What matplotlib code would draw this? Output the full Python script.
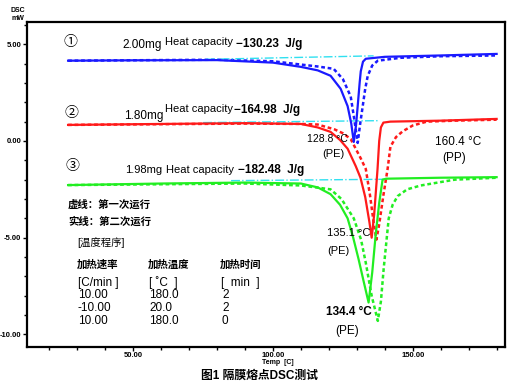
import matplotlib
matplotlib.use("Agg")
import matplotlib.pyplot as plt
from matplotlib.ticker import MultipleLocator, FormatStrFormatter

plt.rcParams['font.family'] = ['Liberation Sans', 'Noto Sans CJK SC', 'DejaVu Sans']
plt.rcParams['axes.unicode_minus'] = False

# sample 1 (blue)
t_b1 = [26.7, 50, 80, 100, 110, 116, 120.6, 124.2, 126.7, 128, 128.9, 129.7, 130.3, 131, 131.4, 132.2, 133.2, 140, 160, 180]
y_b1 = [4.15, 4.17, 4.18, 4.05, 3.83, 3.65, 3.37, 2.7, 1.8, 0.9, -0.05, 0.8, 1.8, 3.0, 3.6, 4.1, 4.25, 4.35, 4.42, 4.5]
t_b0 = [26.7, 80, 100, 110, 116, 121.7, 125, 127.8, 129, 130.3, 131.2, 132.1, 133, 133.9, 135.5, 137.5, 145.7, 160, 180]
y_b0 = [4.15, 4.2, 4.12, 3.95, 3.85, 3.73, 3.2, 2.3, 1.2, -0.1, 0.9, 1.8, 2.7, 3.37, 3.9, 4.15, 4.3, 4.38, 4.42]

# sample 2 (red)
t_r1 = [26.7, 60, 90, 110, 116, 120.6, 124, 126.7, 129.6, 131.3, 133, 134.5, 135.3, 136.2, 137.4, 138, 138.6, 139.5, 142, 160, 180]
y_r1 = [0.83, 0.88, 0.92, 0.88, 0.7, 0.47, 0.05, -0.4, -1.3, -1.9, -2.9, -4.2, -5.0, -3.8, -1.45, 0.0, 0.7, 0.95, 1.0, 1.05, 1.14]
t_r0 = [26.7, 90, 110, 116, 122, 125, 127.8, 131.4, 133.2, 134.7, 136, 137, 138, 139.5, 141, 142, 144, 146.4, 150, 155, 165, 180]
y_r0 = [0.83, 0.9, 0.88, 0.85, 0.6, 0.4, 0.1, -0.9, -1.45, -2.8, -4.2, -5.1, -4.3, -2.8, -1.45, -0.3, 0.2, 0.5, 0.8, 1.0, 1.05, 1.1]

# sample 3 (green)
t_g1 = [26.7, 60, 90, 110, 116, 120.6, 124, 126.7, 128.7, 130.6, 132.5, 134.2, 135.5, 136.7, 138, 139.2, 140.5, 160, 180]
y_g1 = [-2.28, -2.2, -2.15, -2.2, -2.4, -2.75, -3.3, -4.0, -5.0, -6.1, -7.3, -8.35, -6.8, -4.9, -3.2, -2.0, -1.95, -1.9, -1.87]
t_g0 = [26.7, 90, 110, 120.6, 124.5, 128.9, 131.5, 133.2, 135.3, 137.5, 138.6, 139.6, 141.4, 142.8, 144.6, 148, 152.9, 165, 180]
y_g0 = [-2.28, -2.2, -2.3, -2.5, -3.0, -4.0, -5.1, -6.3, -8.0, -9.3, -8.3, -6.6, -4.0, -3.3, -2.85, -2.5, -2.3, -2.0, -1.9]

# integration baselines
base_t = [[76, 136], [75, 138], [85, 140]]
base_y = [[4.22, 4.4], [0.95, 1.05], [-2.05, -1.98]]

W, H = 510, 383
fig = plt.figure(figsize=(W / 100, H / 100), dpi=100)
ax = fig.add_axes([27 / W, 1 - 347 / H, (505 - 27) / W, (347 - 22) / H])

dot = (0, (1.5, 1.1))
ax.plot(t_b0, y_b0, color='#1a1aff', lw=1.8, ls=dot)
ax.plot(t_r0, y_r0, color='#ff1a1a', lw=1.8, ls=dot)
ax.plot(t_g0, y_g0, color='#22ee22', lw=1.8, ls=dot)
for bt, by in zip(base_t, base_y):
    ax.plot(bt, by, color='#30e0f0', lw=1.0, ls='-.')
ax.plot(t_b1, y_b1, color='#1a1aff', lw=1.6)
ax.plot(t_r1, y_r1, color='#ff1a1a', lw=1.6)
ax.plot(t_g1, y_g1, color='#22ee22', lw=1.6)

ax.set_xlim(12, 183)
ax.set_ylim(-10.65, 6.15)
ax.xaxis.set_major_locator(MultipleLocator(50))
ax.xaxis.set_minor_locator(MultipleLocator(10))
ax.yaxis.set_major_locator(MultipleLocator(5))
ax.yaxis.set_minor_locator(MultipleLocator(1))
ax.xaxis.set_major_formatter(FormatStrFormatter('%.2f'))
ax.yaxis.set_major_formatter(FormatStrFormatter('%.2f'))
ax.tick_params(which='major', direction='out', length=3, width=1, labelsize=5.5, pad=1)
ax.tick_params(axis='x', which='major', pad=0.5)
ax.tick_params(which='minor', direction='out', length=2, width=1)
for lab in ax.get_xticklabels() + ax.get_yticklabels():
    lab.set_fontweight('bold')
for s in ax.spines.values():
    s.set_linewidth(1.6)


def px(x, y):
    return x / W, 1 - y / H


def put(x, y, s, size=9, weight='normal', ha='left'):
    fig.text(*px(x, y), s, fontsize=size, fontweight=weight, ha=ha, va='center')


# sample headers
put(70, 42, '①', 10, ha='center')
put(122, 45, '2.00mg', 8.5)
put(165, 42, 'Heat capacity', 8)
put(236, 44, '−130.23  J/g', 8.5, 'bold')
put(71, 113, '②', 10, ha='center')
put(124, 116, '1.80mg', 8.5)
put(165, 109, 'Heat capacity', 8)
put(234, 110, '−164.98  J/g', 8.5, 'bold')
put(72, 166, '③', 10, ha='center')
put(125, 170, '1.98mg', 8)
put(166, 170, 'Heat capacity', 8)
put(238, 170, '−182.48  J/g', 8.5, 'bold')

# peak labels
put(307, 139, '128.8 °C', 7.5)
put(322, 154, '(PE)', 8)
put(435, 142, '160.4 °C', 8.5)
put(442, 158, '(PP)', 8.5)
put(327, 233, '135.1 °C', 8)
put(327, 251, '(PE)', 8)
put(326, 312, '134.4 °C', 8.5, 'bold')
put(335, 331, '(PE)', 8.5)

# legend notes and temperature program
put(68, 205, '虚线：第一次运行', 7.5, 'bold')
put(68, 222, '实线：第二次运行', 7.5, 'bold')
put(77, 243, '[温度程序]', 7.5)
cols = [77, 148, 220]
heads = ['加热速率', '加热温度', '加热时间']
units = ['[C/min ]', '[ ˚C  ]', '[  min  ]']
rate = ['10.00', '-10.00', '10.00']
temp = ['180.0', '20.0', '180.0']
hold = ['2', '2', '0']
for c, h, u in zip(cols, heads, units):
    put(c, 265, h, 7.5, 'bold')
    put(c + 1, 283, u, 8.5)
for i, (a, b, c) in enumerate(zip(rate, temp, hold)):
    yy = 295 + i * 13
    put(cols[0] + 1, yy, a, 8.5)
    put(cols[1] + 1, yy, b, 8.5)
    put(cols[2] + 2, yy, c, 8.5)

put(18, 10, 'DSC', 5, 'bold', ha='center')
put(18, 18, 'mW', 5, 'bold', ha='center')
put(278, 362, 'Temp  [C]', 5, 'bold', ha='center')
put(259, 376, '图1 隔膜熔点DSC测试', 8.5, 'bold', ha='center')

fig.savefig('out.png', dpi=100)
